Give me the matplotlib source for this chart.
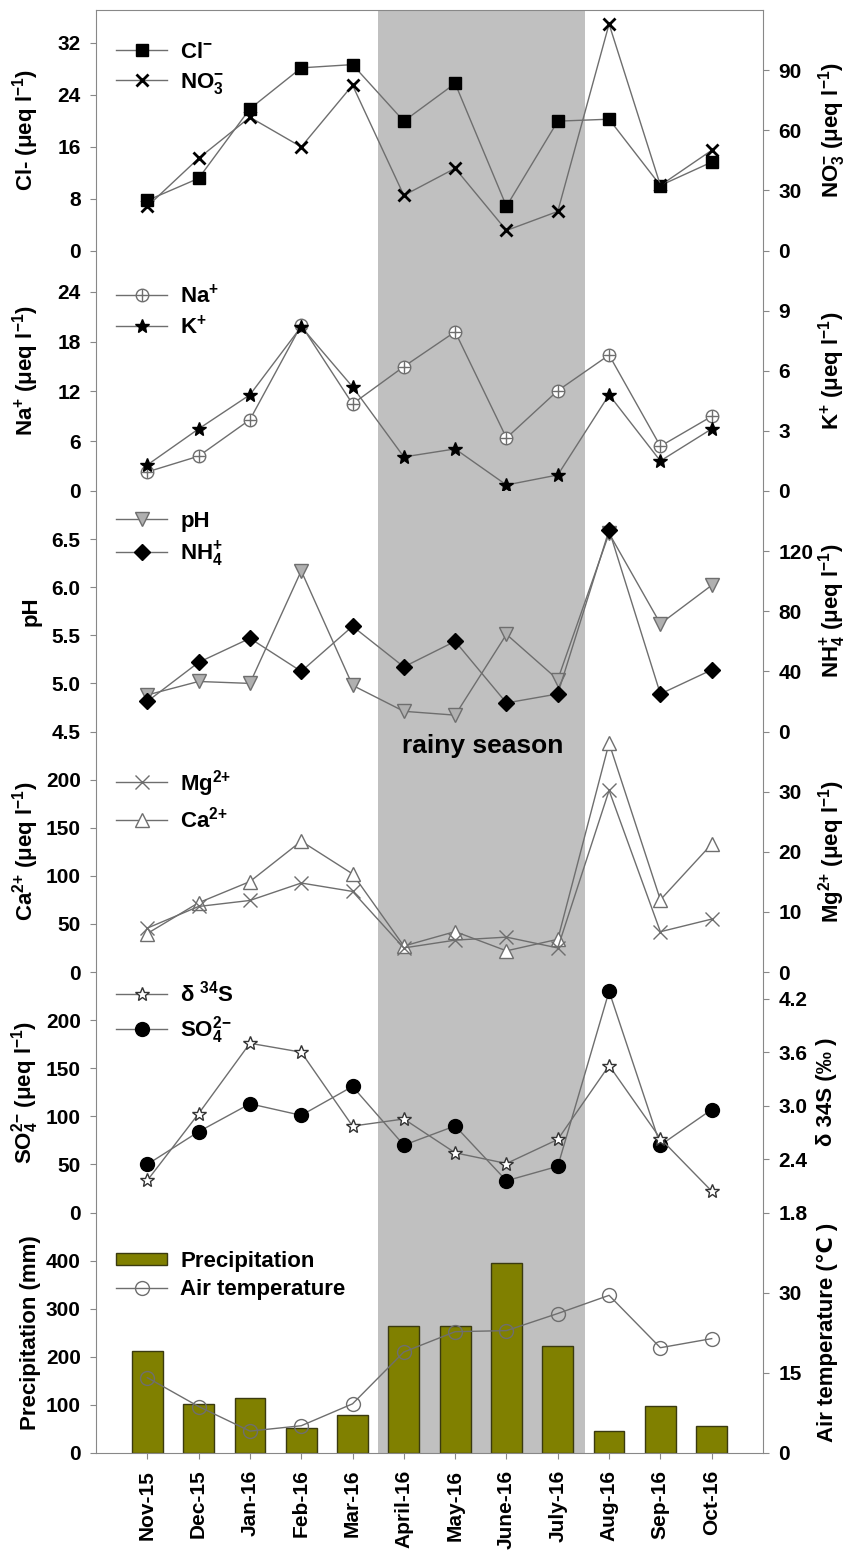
import numpy as np
import matplotlib.pyplot as plt

plt.rcParams['font.family'] = ['Liberation Sans', 'DejaVu Sans']
plt.rcParams['font.weight'] = 'bold'
plt.rcParams['axes.labelweight'] = 'bold'
plt.rcParams['mathtext.fontset'] = 'custom'
plt.rcParams['mathtext.rm'] = 'Liberation Sans:bold'
plt.rcParams['mathtext.it'] = 'Liberation Sans:bold'
plt.rcParams['mathtext.bf'] = 'Liberation Sans:bold'
plt.rcParams['mathtext.sf'] = 'Liberation Sans:bold'

months = ['Nov-15', 'Dec-15', 'Jan-16', 'Feb-16', 'Mar-16', 'April-16',
          'May-16', 'June-16', 'July-16', 'Aug-16', 'Sep-16', 'Oct-16']
cl = [7.7, 11.1, 21.8, 28.1, 28.6, 19.9, 25.7, 6.8, 19.9, 20.2, 10.0, 13.6]
no3 = [22, 46, 66.5, 51.7, 82.5, 27.5, 41, 10, 19.5, 113, 32.5, 50]
na = [2.3, 4.2, 8.6, 20.0, 10.5, 15.0, 19.2, 6.4, 12.1, 16.4, 5.4, 9.0]
k = [1.3, 3.1, 4.8, 8.2, 5.2, 1.7, 2.1, 0.3, 0.8, 4.8, 1.5, 3.1]
ph = [4.88, 5.02, 5.0, 6.17, 4.98, 4.71, 4.67, 5.51, 5.04, 6.56, 5.62, 6.02]
nh4 = [20, 46, 62, 40, 70, 43, 60, 19, 25, 134, 25, 41]
ca = [40, 72, 94, 136, 102, 27, 42, 22, 34, 238, 75, 133]
mg = [7.3, 10.9, 11.9, 14.8, 13.4, 4.0, 5.3, 5.8, 4.0, 30.2, 6.7, 8.8]
so4 = [50, 84, 113, 101, 131, 70, 90, 33, 48, 230, 70, 107]
d34s = [2.16, 2.91, 3.70, 3.60, 2.77, 2.85, 2.47, 2.35, 2.62, 3.45, 2.63, 2.04]
precip = [212, 102, 115, 53, 79, 263, 263, 395, 222, 46, 98, 56]
temp = [14.1, 8.7, 4.1, 5.1, 9.2, 18.9, 22.7, 22.9, 26.1, 29.5, 19.7, 21.4]
rainy = (4.5, 8.53)

x = np.arange(len(months))
gray = '#888888'
lc = '#6e6e6e'

fig = plt.figure(figsize=(8.53, 15.5), dpi=100)
L, W = 96 / 853, 667 / 853
H = 240.5 / 1550
B0 = 1 - 1453 / 1550


def panel(i, lylim, lticks, rylim, rticks, llabel, rlabel):
    ax = fig.add_axes([L, B0 + (5 - i) * H, W, H])
    ax.set_xlim(-1, 12)
    ax.axvspan(rainy[0], rainy[1], color='#c0c0c0', lw=0, zorder=0)
    ax2 = ax.twinx()
    ax.set_ylim(lylim)
    ax.set_yticks(lticks)
    ax2.set_ylim(rylim)
    ax2.set_yticks(rticks)
    for s in ax.spines.values():
        s.set_color(gray)
    for s in ax2.spines.values():
        s.set_color(gray)
    ax.spines['right'].set_visible(False)
    ax.spines['top'].set_visible(i == 0)
    ax.spines['bottom'].set_visible(i == 5)
    ax2.spines['left'].set_visible(False)
    ax2.spines['top'].set_visible(False)
    ax2.spines['bottom'].set_visible(False)
    ax.tick_params(axis='y', length=4, color=gray, labelsize=15, pad=7)
    ax2.tick_params(axis='y', length=4, color=gray, labelsize=15, pad=7)
    if i < 5:
        ax.tick_params(axis='x', bottom=False, labelbottom=False)
    else:
        ax.set_xticks(x)
        ax.set_xticklabels(months, rotation=90, fontsize=15)
        ax.tick_params(axis='x', length=4, color=gray, pad=8)
    ax.set_ylabel(llabel, fontsize=16)
    ax2.set_ylabel(rlabel, fontsize=16)
    ax.yaxis.set_label_coords(-0.082, 0.5)
    ax2.yaxis.set_label_coords(1.08, 0.5)
    return ax, ax2


def leg(ax, handles, labels, y, **kw):
    ax.legend(handles, labels, loc='center left', bbox_to_anchor=(0.03, y),
              frameon=False, borderaxespad=0, borderpad=0, fontsize=16,
              handlelength=2.3, handletextpad=0.6, labelspacing=0.35, **kw)


lw = 1.0
ulab = ' (μeq l$^{-1}$)'

# panel 1
ax, ax2 = panel(0, (0, 37), [0, 8, 16, 24, 32], (0, 120), [0, 30, 60, 90],
                'Cl-' + ulab, 'NO$_3^{-}$' + ulab)
h1, = ax.plot(x, cl, color=lc, lw=lw, marker='s', ms=8, mfc='k', mec='k')
h2, = ax2.plot(x, no3, color=lc, lw=lw, marker='x', ms=8, mec='k', mew=2)
leg(ax2, [h1, h2], ['Cl$^{-}$', 'NO$_3^{-}$'], 0.755)

# panel 2
ax, ax2 = panel(1, (0, 29), [0, 6, 12, 18, 24], (0, 12), [0, 3, 6, 9],
                'Na$^{+}$' + ulab, 'K$^{+}$' + ulab)
h1, = ax.plot(x, na, color=lc, lw=lw, marker='o', ms=9, mfc='white', mec=lc)
h1b, = ax.plot(x, na, ls='none', marker='+', ms=9, mec=lc, mew=1)
h2, = ax2.plot(x, k, color=lc, lw=lw, marker='*', ms=10, mfc='k', mec='k')
leg(ax2, [(h1, h1b), h2], ['Na$^{+}$', 'K$^{+}$'], 0.746)

# panel 3
ax, ax2 = panel(2, (4.5, 7.0), [4.5, 5.0, 5.5, 6.0, 6.5], (0, 160), [0, 40, 80, 120],
                'pH', 'NH$_4^{+}$' + ulab)
h1, = ax.plot(x, ph, color=lc, lw=lw, marker='v', ms=10, mfc='#b0b0b0', mec=lc)
h2, = ax2.plot(x, nh4, color=lc, lw=lw, marker='D', ms=8, mfc='k', mec='k')
leg(ax2, [h1, h2], ['pH', 'NH$_4^{+}$'], 0.798)

# panel 4
ax, ax2 = panel(3, (0, 250), [0, 50, 100, 150, 200], (0, 40), [0, 10, 20, 30],
                'Ca$^{2{+}}$' + ulab, 'Mg$^{2{+}}$' + ulab)
h2, = ax.plot(x, ca, color=lc, lw=lw, marker='^', ms=10, mfc='white', mec=lc)
h1, = ax2.plot(x, mg, color=lc, lw=lw, marker='x', ms=10, mec=lc, mew=1)
leg(ax2, [h1, h2], ['Mg$^{2{+}}$', 'Ca$^{2{+}}$'], 0.715)

# panel 5
ax, ax2 = panel(4, (0, 250), [0, 50, 100, 150, 200], (1.8, 4.5), [1.8, 2.4, 3.0, 3.6, 4.2],
                'SO$_4^{2{-}}$' + ulab, 'δ 34S (‰ )')
h2, = ax.plot(x, so4, color=lc, lw=lw, marker='o', ms=10, mfc='k', mec='k')
h1, = ax2.plot(x, d34s, color=lc, lw=lw, marker='*', ms=10, mfc='white', mec='#333333')
leg(ax2, [h1, h2], ['δ $^{34}$S', 'SO$_4^{2{-}}$'], 0.827)

# panel 6
ax, ax2 = panel(5, (0, 500), [0, 100, 200, 300, 400], (0, 45), [0, 15, 30],
                'Precipitation (mm)', 'Air temperature (℃ )')
h1 = ax.bar(x, precip, width=0.6, color='#808000', edgecolor='#3a3a10', lw=1, zorder=2)
h2, = ax2.plot(x, temp, color=lc, lw=lw, marker='o', ms=10, mfc='none', mec=lc)
leg(ax2, [h1, h2], ['Precipitation', 'Air temperature'], 0.738, handleheight=0.45)

fig.text(483 / 853, 1 - 746 / 1550, 'rainy season', ha='center', va='center',
         fontsize=19, fontweight='bold')

fig.savefig('out.png', dpi=100)
